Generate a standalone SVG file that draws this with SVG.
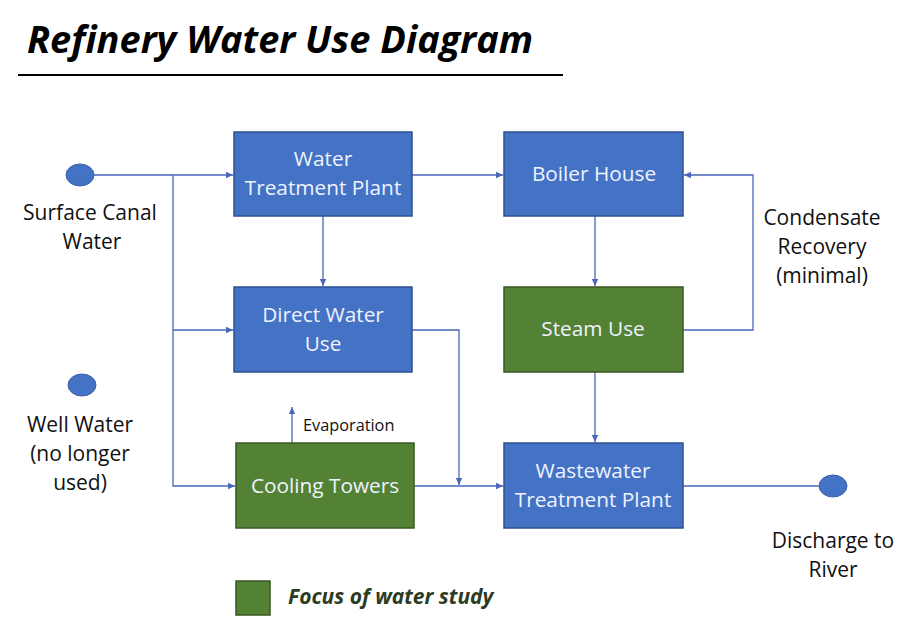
<svg xmlns="http://www.w3.org/2000/svg" width="914" height="626" viewBox="0 0 914 626">
<defs>
<marker id="arr" markerUnits="userSpaceOnUse" markerWidth="8" markerHeight="8" refX="7" refY="4" orient="auto">
<path d="M0,0.8 L7,4 L0,7.2 z" fill="#4a67b8"/>
</marker>
</defs>
<style>
.blue{fill:#4472C4;stroke:#2F528F;stroke-width:1.5}
.green{fill:#548235;stroke:#385723;stroke-width:1.5}
.bt{font-family:"Open Sans","Liberation Sans",sans-serif;font-size:20.8px;fill:#eef3ff;text-anchor:middle}
.lt{font-family:"Open Sans","Liberation Sans",sans-serif;font-size:21px;fill:#111;text-anchor:middle}
.dot{fill:#4472C4;stroke:#3a62ad;stroke-width:1}
.c{fill:none;stroke:#4a67b8;stroke-width:1.3}
</style>
<rect width="914" height="626" fill="#ffffff"/>
<g id="title">
<text x="27" y="53" font-family="Open Sans, Liberation Sans, sans-serif" font-size="38" font-weight="bold" font-style="italic" fill="#000" textLength="506" lengthAdjust="spacingAndGlyphs">Refinery Water Use Diagram</text>
<line x1="18" y1="75" x2="563" y2="75" stroke="#000" stroke-width="2"/>
</g>
<g id="connectors">
<line class="c" x1="94" y1="175" x2="233" y2="175" marker-end="url(#arr)"/>
<polyline class="c" points="173,175 173,486 235,486" marker-end="url(#arr)"/>
<line class="c" x1="173" y1="330" x2="233" y2="330" marker-end="url(#arr)"/>
<line class="c" x1="412" y1="175" x2="503" y2="175" marker-end="url(#arr)"/>
<line class="c" x1="323" y1="216" x2="323" y2="286" marker-end="url(#arr)"/>
<line class="c" x1="595" y1="216" x2="595" y2="286" marker-end="url(#arr)"/>
<polyline class="c" points="683,330 753,330 753,175 684,175" marker-end="url(#arr)"/>
<line class="c" x1="595" y1="372" x2="595" y2="442" marker-end="url(#arr)"/>
<polyline class="c" points="412,330 459,330 459,485" marker-end="url(#arr)"/>
<line class="c" x1="414" y1="486" x2="503" y2="486" marker-end="url(#arr)"/>
<line class="c" x1="683" y1="486" x2="819" y2="486"/>
<line class="c" x1="292" y1="443" x2="292" y2="407" marker-end="url(#arr)"/>
</g>
<g id="surface-canal-water">
<ellipse class="dot" cx="80" cy="175" rx="14" ry="11"/>
<text class="lt" x="90" y="220">Surface Canal</text>
<text class="lt" x="92" y="249">Water</text>
</g>
<g id="well-water">
<ellipse class="dot" cx="82" cy="385" rx="14" ry="11"/>
<text class="lt" x="80" y="432">Well Water</text>
<text class="lt" x="80" y="461">(no longer</text>
<text class="lt" x="80" y="490">used)</text>
</g>
<g id="water-treatment-plant">
<rect class="blue" x="234" y="132" width="178" height="84"/>
<text class="bt" x="323" y="166">Water</text>
<text class="bt" x="323" y="195">Treatment Plant</text>
</g>
<g id="boiler-house">
<rect class="blue" x="504" y="132" width="179" height="84"/>
<text class="bt" x="594" y="181">Boiler House</text>
</g>
<g id="direct-water-use">
<rect class="blue" x="234" y="287" width="178" height="85"/>
<text class="bt" x="323" y="322">Direct Water</text>
<text class="bt" x="323" y="351">Use</text>
</g>
<g id="steam-use">
<rect class="green" x="504" y="287" width="179" height="85"/>
<text class="bt" x="593" y="336">Steam Use</text>
</g>
<g id="cooling-towers">
<rect class="green" x="236" y="443" width="178" height="85"/>
<text class="bt" x="325" y="493">Cooling Towers</text>
</g>
<g id="evaporation">
<text x="303" y="431" font-family="Open Sans, Liberation Sans, sans-serif" font-size="16.3" fill="#111">Evaporation</text>
</g>
<g id="wastewater-treatment-plant">
<rect class="blue" x="504" y="443" width="179" height="85"/>
<text class="bt" x="593" y="478">Wastewater</text>
<text class="bt" x="593" y="507">Treatment Plant</text>
</g>
<g id="condensate-recovery">
<text class="lt" x="822" y="225">Condensate</text>
<text class="lt" x="822" y="254">Recovery</text>
<text class="lt" x="822" y="283">(minimal)</text>
</g>
<g id="discharge-to-river">
<ellipse class="dot" cx="833" cy="486" rx="14" ry="11"/>
<text class="lt" x="833" y="548">Discharge to</text>
<text class="lt" x="833" y="577">River</text>
</g>
<g id="legend">
<rect class="green" x="236" y="581" width="34" height="34"/>
<text x="288" y="604" font-family="Open Sans, Liberation Sans, sans-serif" font-size="21" font-weight="bold" font-style="italic" fill="#2d3b22">Focus of water study</text>
</g>
</svg>
